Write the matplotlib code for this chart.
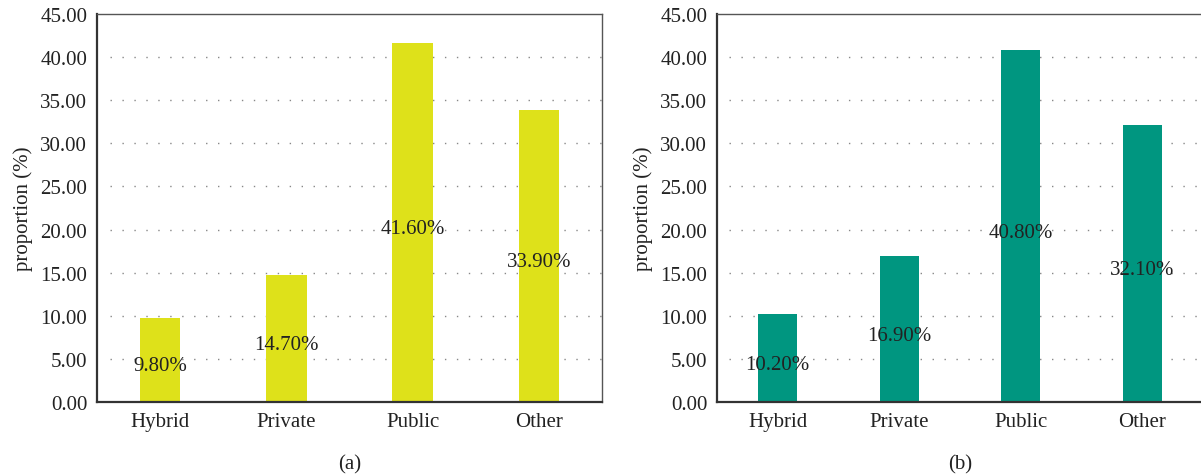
import matplotlib
matplotlib.use("Agg")
import matplotlib.pyplot as plt

categories = ["Hybrid", "Private", "Public", "Other"]
values_a = [9.8, 14.7, 41.6, 33.9]
values_b = [10.2, 16.9, 40.8, 32.1]
yticks = [0, 5, 10, 15, 20, 25, 30, 35, 40, 45]

plt.rcParams['font.family'] = ['Liberation Serif', 'DejaVu Serif']
FS = 15

fig = plt.figure(figsize=(12.01, 4.77), dpi=100)
bottom = 1 - 403 / 477
height = (403 - 15) / 477
ax_a = fig.add_axes([97 / 1201, bottom, 505 / 1201, height])
ax_b = fig.add_axes([717 / 1201, bottom, 486 / 1201, height])

for ax, vals, color, tag in [(ax_a, values_a, '#DEE11A', '(a)'),
                             (ax_b, values_b, '#009680', '(b)')]:
    x = list(range(len(categories)))
    ax.bar(x, vals, width=0.32, color=color, zorder=2)
    ax.set_xlim(-0.5, 3.5)
    ax.set_ylim(0, 45)
    ax.set_yticks(yticks)
    ax.set_yticklabels([f"{t:.2f}" for t in yticks], fontsize=FS, color='#222222')
    ax.set_xticks(x)
    ax.set_xticklabels(categories, fontsize=FS, color='#222222')
    ax.tick_params(axis='both', length=0)
    ax.tick_params(axis='y', pad=7)
    ax.tick_params(axis='x', pad=7)
    for yv in yticks[1:-1]:
        ax.axhline(yv, xmin=0.025, xmax=1, color='#888888', linewidth=1.0,
                   linestyle=(0, (1, 7.6)), zorder=1)
    for s in ['left', 'bottom']:
        ax.spines[s].set_color('#333333')
        ax.spines[s].set_linewidth(1.6)
    for s in ['top', 'right']:
        ax.spines[s].set_color('#555555')
        ax.spines[s].set_linewidth(1.0)
    ax.set_ylabel('proportion (%)', fontsize=FS, color='#222222', labelpad=5)
    for xi, v in zip(x, vals):
        ax.text(xi, v / 2 - 0.7, f"{v:.2f}%", ha='center', va='center',
                fontsize=FS, color='#222222', zorder=3)
    ax.text(0.5, -0.16, tag, transform=ax.transAxes, ha='center', va='center',
            fontsize=FS, color='#222222')

fig.savefig('out.png', dpi=100)
